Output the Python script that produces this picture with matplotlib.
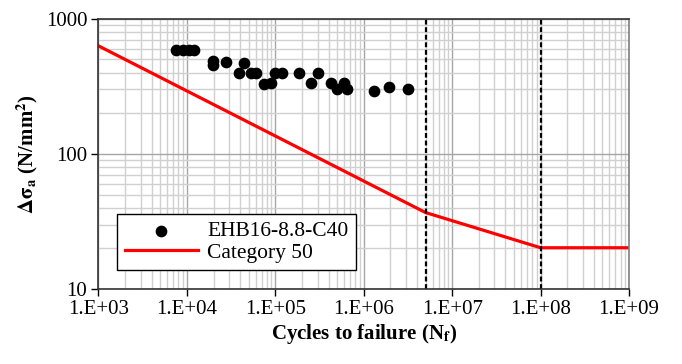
import matplotlib.pyplot as plt
import numpy as np

plt.rcParams['font.family'] = ['Liberation Serif', 'DejaVu Serif']
plt.rcParams['mathtext.fontset'] = 'stix'

# test results EHB16-8.8-C40
cycles = [7.5e3, 9.0e3, 1.05e4, 1.2e4, 1.95e4, 1.95e4, 2.75e4, 3.9e4, 4.4e4,
          5.3e4, 6.0e4, 7.4e4, 8.9e4, 1.0e5, 1.18e5, 1.86e5, 2.5e5, 3.0e5,
          4.3e5, 5.0e5, 6.0e5, 6.5e5, 1.3e6, 1.95e6, 3.2e6]
stress = [590, 590, 590, 590, 490, 455, 475, 395, 468,
          395, 395, 327, 332, 395, 395, 395, 332, 395,
          332, 300, 332, 300, 290, 310, 300]

# detail category 50 curve
cat_N = [1e3, 5e6, 1e8, 1e9]
cat_S = [630, 36.8, 20.2, 20.2]

# cut-off limits
limits = [5e6, 1e8]

fig = plt.figure(figsize=(6.82, 3.64), dpi=100)
ax = fig.add_axes([0.1444, 0.206, 0.778, 0.7425])

ax.set_xscale('log')
ax.set_yscale('log')
ax.set_xlim(1e3, 1e9)
ax.set_ylim(10, 1000)

ax.grid(True, which='major', color='#a6a6a6', linewidth=1.0)
ax.grid(True, which='minor', color='#d0d0d0', linewidth=1.0)
ax.set_axisbelow(True)

ax.scatter(cycles, stress, s=55, color='black', zorder=3, label='EHB16-8.8-C40')
ax.plot(cat_N, cat_S, color='#ff0000', linewidth=2.3, zorder=2, label='Category 50')
for x in limits:
    ax.axvline(x, color='black', linestyle=(0, (2.2, 1.2)), linewidth=1.6, zorder=2)

ax.set_xticks([1e3, 1e4, 1e5, 1e6, 1e7, 1e8, 1e9])
ax.set_xticklabels(['1.E+03', '1.E+04', '1.E+05', '1.E+06', '1.E+07', '1.E+08', '1.E+09'])
ax.set_yticks([10, 100, 1000])
ax.set_yticklabels(['10', '100', '1000'])
ax.tick_params(which='major', direction='out', length=5, width=1, labelsize=15, pad=3)
ax.tick_params(which='minor', length=0)

for s in ax.spines.values():
    s.set_linewidth(1.2)
    s.set_color('#333333')
ax.spines['right'].set_color('#7f7f7f')

ax.set_xlabel(r'Cycles to failure (N$_\mathbf{f}$)', fontsize=15, fontweight='bold', labelpad=2)
ax.set_ylabel(r'$\mathbf{\Delta\sigma_a}$ (N/mm$^\mathbf{2}$)', fontsize=15, fontweight='bold', labelpad=4)

leg = ax.legend(loc='lower left', bbox_to_anchor=(0.035, 0.07), borderaxespad=0,
                fontsize=15.5, frameon=True, fancybox=False, edgecolor='black',
                framealpha=1, borderpad=0.35, handlelength=3.4, handletextpad=0.45,
                labelspacing=0.05)
leg.get_frame().set_linewidth(1.0)

fig.savefig('out.png', dpi=100)
